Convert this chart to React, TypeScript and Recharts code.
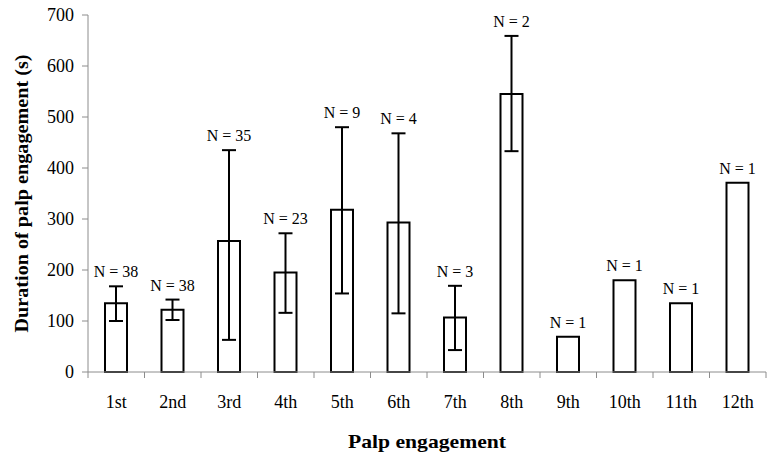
import { BarChart, Bar, XAxis, YAxis, ErrorBar, LabelList } from 'recharts'

const categories = ['1st', '2nd', '3rd', '4th', '5th', '6th', '7th', '8th', '9th', '10th', '11th', '12th']
const means = [135, 122, 257, 195, 318, 293, 107, 545, 69, 180, 135, 371]
const errHigh = [168, 142, 435, 272, 480, 468, 169, 659, null, null, null, null]
const errLow = [100, 102, 63, 116, 154, 115, 43, 433, null, null, null, null]
const sampleSizes = [38, 38, 35, 23, 9, 4, 3, 2, 1, 1, 1, 1]
const yTicks = [0, 100, 200, 300, 400, 500, 600, 700]

const data = categories.map((name, i) => ({
  name,
  mean: means[i],
  err: errHigh[i] != null ? [means[i] - (errLow[i] as number), (errHigh[i] as number) - means[i]] : null,
  top: errHigh[i] ?? means[i],
  n: sampleSizes[i],
}))

const font = '"Liberation Serif", "Times New Roman", serif'
const axisGray = '#8c8c8c'

function XTick(props: any) {
  const { x, y, payload, index } = props
  const half = payload.offset ?? 0
  return (
    <g>
      <line x1={x - half} x2={x - half} y1={y} y2={y + 6} stroke={axisGray} strokeWidth={1} />
      {index === categories.length - 1 && (
        <line x1={x + half} x2={x + half} y1={y} y2={y + 6} stroke={axisGray} strokeWidth={1} />
      )}
      <text x={x} y={y + 36} textAnchor="middle" fontFamily={font} fontSize={18} fill="#000">
        {payload.value}
      </text>
    </g>
  )
}

function YTick(props: any) {
  const { x, y, payload } = props
  return (
    <text x={x} y={y} dy={6} textAnchor="end" fontFamily={font} fontSize={18} fill="#000">
      {payload.value}
    </text>
  )
}

function NLabel(props: any) {
  const { x, y, width, height, index } = props
  const d = data[index]
  if (!d) return null
  const base = y + height
  const top = base - (d.top / d.mean) * height
  return (
    <text x={x + width / 2} y={top - 9} textAnchor="middle" fontFamily={font} fontSize={16} fill="#000">
      {`N = ${d.n}`}
    </text>
  )
}

export default function App() {
  return (
    <div style={{ position: 'absolute', left: 0, top: 0, width: 772, height: 456, background: '#fff' }}>
      <BarChart width={772} height={456} data={data} margin={{ top: 15, right: 6, bottom: 0, left: 0 }} barSize={22}>
        <XAxis
          dataKey="name"
          height={84}
          stroke={axisGray}
          tickLine={false}
          tick={<XTick />}
          interval={0}
          tickSize={0}
          tickMargin={0}
          label={{
            content: ({ viewBox }: any) => (
              <text
                x={viewBox.x + viewBox.width / 2}
                y={viewBox.y + 76}
                textAnchor="middle"
                fontFamily={font}
                fontWeight="bold"
                fontSize={19}
                textLength={158}
                lengthAdjust="spacingAndGlyphs"
              >
                Palp engagement
              </text>
            ),
          }}
        />
        <YAxis
          width={88}
          domain={[0, 700]}
          ticks={yTicks}
          interval={0}
          stroke={axisGray}
          tickSize={6}
          tickMargin={8}
          tick={<YTick />}
          label={{
            content: ({ viewBox }: any) => {
              const cx = 21
              const cy = viewBox.y + viewBox.height / 2
              return (
                <text
                  x={cx}
                  y={cy}
                  transform={`rotate(-90 ${cx} ${cy})`}
                  textAnchor="middle"
                  dominantBaseline="central"
                  fontFamily={font}
                  fontWeight="bold"
                  fontSize={19}
                  textLength={278}
                  lengthAdjust="spacingAndGlyphs"
                >
                  Duration of palp engagement (s)
                </text>
              )
            },
          }}
        />
        <Bar dataKey="mean" fill="#fff" stroke="#000" strokeWidth={2} isAnimationActive={false}>
          <ErrorBar dataKey="err" width={7} stroke="#000" strokeWidth={2} direction="y" />
          <LabelList dataKey="n" content={<NLabel />} />
        </Bar>
      </BarChart>
    </div>
  )
}
